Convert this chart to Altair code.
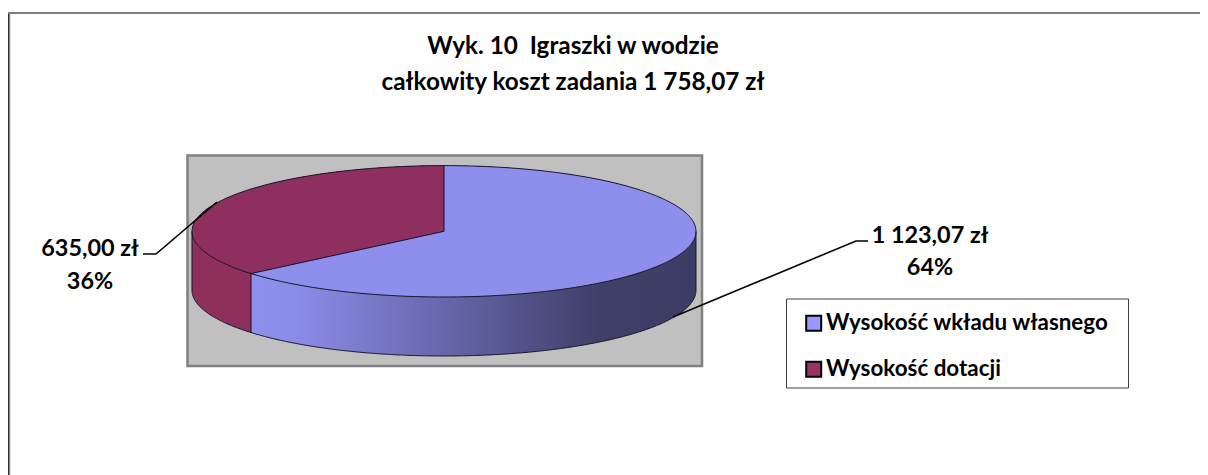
import math
import altair as alt
import pandas as pd

# --- chart values ---
series = ["Wysokość wkładu własnego", "Wysokość dotacji"]
amounts = [1123.07, 635.00]
amount_labels = ["1 123,07 zł", "635,00 zł"]
share_labels = ["64%", "36%"]
colors = ["#9999FF", "#993366"]
title_lines = ["Wyk. 10\u00a0 Igraszki w wodzie", "całkowity koszt zadania 1 758,07 zł"]

# --- layout (page pixels) ---
W, H = 1192, 467
CX, CY, RX, RY, DEPTH = 444.0, 231.3, 252.0, 65.7, 59.0
FONT = "Lato"
FS_TITLE, FS_LABEL, FS_LEGEND = 24.3, 23.4, 22.4

xs = alt.Scale(domain=[8, 8 + W], range=[0, W], nice=False, zero=False)
ys = alt.Scale(domain=[8, 8 + H], range=[0, H], nice=False, zero=False)
X = alt.X("x:Q", scale=xs, axis=None)
Y = alt.Y("y:Q", scale=ys, axis=None)
Y2 = alt.Y2("y2:Q")

# The red slice runs anticlockwise from 12 o'clock; its size comes from the values.
split = 2 * math.pi * amounts[1] / sum(amounts)
sx = CX + RX * math.sin(-split)
sy = CY - RY * math.cos(split)


def upper(t):
    return CY - RY * math.cos(t)


def lower(t):
    return CY + RY * math.cos(t)


def px(t):
    return CX + RX * math.sin(t)


ts = [math.radians(d / 2 - 90) for d in range(0, 361)]
ts_red = [t for t in ts if px(t) <= CX]
ts_blue = [t for t in ts if px(t) >= CX]

# full ellipse under the translucent slices
under = pd.DataFrame([{"x": px(t), "y": upper(t), "y2": lower(t)} for t in ts])

# top surface of the slices
rows = []
for t in ts_red:
    x = px(t)
    bottom = lower(t) if x <= sx else sy + (CY - sy) * (x - sx) / (CX - sx)
    rows.append({"s": series[1], "x": x, "y": upper(t), "y2": bottom})
rows.append({"s": series[0], "x": sx, "y": sy, "y2": sy})
for t in ts_red:
    x = px(t)
    if x >= sx:
        top = sy + (CY - sy) * (x - sx) / (CX - sx)
        rows.append({"s": series[0], "x": x, "y": top, "y2": lower(t)})
for t in ts_blue:
    rows.append({"s": series[0], "x": px(t), "y": upper(t), "y2": lower(t)})
top_df = pd.DataFrame(rows)

# side walls
wall_red = pd.DataFrame(
    [{"x": px(t), "y": lower(t), "y2": lower(t) + DEPTH} for t in ts if px(t) <= sx]
    + [{"x": sx, "y": sy, "y2": sy + DEPTH}]
)
wall_blue = pd.DataFrame(
    [{"x": sx, "y": sy, "y2": sy + DEPTH}]
    + [{"x": px(t), "y": lower(t), "y2": lower(t) + DEPTH} for t in ts if px(t) > sx]
)

# outlines
seg = []


def add(name, pts):
    for k, (x, y) in enumerate(pts):
        seg.append({"seg": name, "x": x, "y": y, "i": k})


add("rim_up", [(px(t), upper(t)) for t in ts])
add("rim_low", [(px(t), lower(t)) for t in ts])
add("base", [(px(t), lower(t) + DEPTH) for t in ts])
add("left", [(CX - RX, CY), (CX - RX, CY + DEPTH)])
add("right", [(CX + RX, CY), (CX + RX, CY + DEPTH)])
add("cut", [(sx, sy), (sx, sy + DEPTH)])
add("wedge", [(sx, sy), (CX, CY), (CX, CY - RY)])
outline_df = pd.DataFrame(seg)

leaders = pd.DataFrame(
    [
        {"seg": "a", "x": 143, "y": 254, "i": 0},
        {"seg": "a", "x": 156, "y": 254, "i": 1},
        {"seg": "a", "x": 217, "y": 202, "i": 2},
        {"seg": "b", "x": 868, "y": 241, "i": 0},
        {"seg": "b", "x": 856, "y": 241, "i": 1},
        {"seg": "b", "x": 673, "y": 317, "i": 2},
    ]
)

text_df = pd.DataFrame(
    [
        {"t": title_lines[0], "x": 573, "y": 46.5, "fs": FS_TITLE},
        {"t": title_lines[1], "x": 573, "y": 83, "fs": FS_TITLE},
        {"t": amount_labels[1], "x": 90, "y": 248.5, "fs": FS_LABEL},
        {"t": share_labels[1], "x": 90, "y": 281.5, "fs": FS_LABEL},
        {"t": amount_labels[0], "x": 930, "y": 236, "fs": FS_LABEL},
        {"t": share_labels[0], "x": 930, "y": 268, "fs": FS_LABEL},
    ]
)

backdrop = pd.DataFrame([{"x": 187.5, "x2": 702, "y": 155.5, "y2": 366}])
legend_box = pd.DataFrame([{"x": 786.5, "x2": 1128.5, "y": 299, "y2": 388}])
frame_top = pd.DataFrame([{"x": 8, "x2": 8 + W, "y": 13}])
frame_left = pd.DataFrame([{"x": 8.5, "y": 13, "y2": 475}])
frame_left2 = pd.DataFrame([{"x": 10, "y": 14, "y2": 475}])

blue_gradient = alt.Gradient(
    gradient="linear",
    x1=0, x2=1, y1=0, y2=0,
    stops=[
        alt.GradientStop(offset=0, color="#9090F0"),
        alt.GradientStop(offset=0.12, color="#8A8AE6"),
        alt.GradientStop(offset=0.78, color="#3F3F69"),
        alt.GradientStop(offset=1, color="#3C3C64"),
    ],
)

layers = [
    alt.Chart(frame_left2).mark_rule(color="#C8C8C8", strokeWidth=1).encode(x=X, y=Y, y2=Y2),
    alt.Chart(frame_left).mark_rule(color="#2B2B2B", strokeWidth=2).encode(x=X, y=Y, y2=Y2),
    alt.Chart(frame_top).mark_rule(color="#808080", strokeWidth=2).encode(x=X, x2=alt.X2("x2:Q"), y=Y),
    alt.Chart(backdrop).mark_rect(color="#C0C0C0", stroke="#808080", strokeWidth=2.5).encode(
        x=X, x2=alt.X2("x2:Q"), y=Y, y2=Y2
    ),
    alt.Chart(legend_box).mark_rect(color="#FFFFFF", stroke="#404040", strokeWidth=1).encode(
        x=X, x2=alt.X2("x2:Q"), y=Y, y2=Y2
    ),
    alt.Chart(wall_red).mark_area(color="#8E2F5C", orient="vertical").encode(x=X, y=Y, y2=Y2),
    alt.Chart(wall_blue).mark_area(color=blue_gradient, orient="vertical").encode(x=X, y=Y, y2=Y2),
    alt.Chart(under).mark_area(color="#000000", orient="vertical").encode(x=X, y=Y, y2=Y2),
    alt.Chart(top_df).mark_area(opacity=0.93, orient="vertical").encode(
        x=X,
        y=Y,
        y2=Y2,
        color=alt.Color(
            "s:N",
            scale=alt.Scale(domain=series, range=colors),
            legend=alt.Legend(
                title=None,
                orient="none",
                legendX=794.5,
                legendY=304,
                symbolType="square",
                symbolSize=225,
                symbolOpacity=1,
                symbolStrokeColor="#000000",
                symbolStrokeWidth=2,
                symbolOffset=0,
                labelFont=FONT,
                labelFontWeight="bold",
                labelFontSize=FS_LEGEND,
                labelColor="#000000",
                labelOffset=1,
                labelLimit=400,
                rowPadding=22,
                padding=0,
            ),
        ),
    ),
    alt.Chart(outline_df).mark_line(color="#15152A", strokeWidth=1).encode(
        x=X, y=Y, detail="seg:N", order="i:Q"
    ),
    alt.Chart(leaders).mark_line(color="#000000", strokeWidth=1.6).encode(
        x=X, y=Y, detail="seg:N", order="i:Q"
    ),
    alt.Chart(text_df).mark_text(
        font=FONT, fontWeight="bold", color="#000000", baseline="middle", align="center"
    ).encode(x=X, y=Y, text="t:N", size=alt.Size("fs:Q", scale=None, legend=None)),
]

chart = (
    alt.layer(*layers)
    .properties(
        width=W,
        height=H,
        padding=0,
        autosize=alt.AutoSizeParams(type="none"),
        background="#FFFFFF",
    )
    .configure_view(stroke=None)
)

chart.save("out.html", embed_options={"renderer": "svg", "actions": False})
